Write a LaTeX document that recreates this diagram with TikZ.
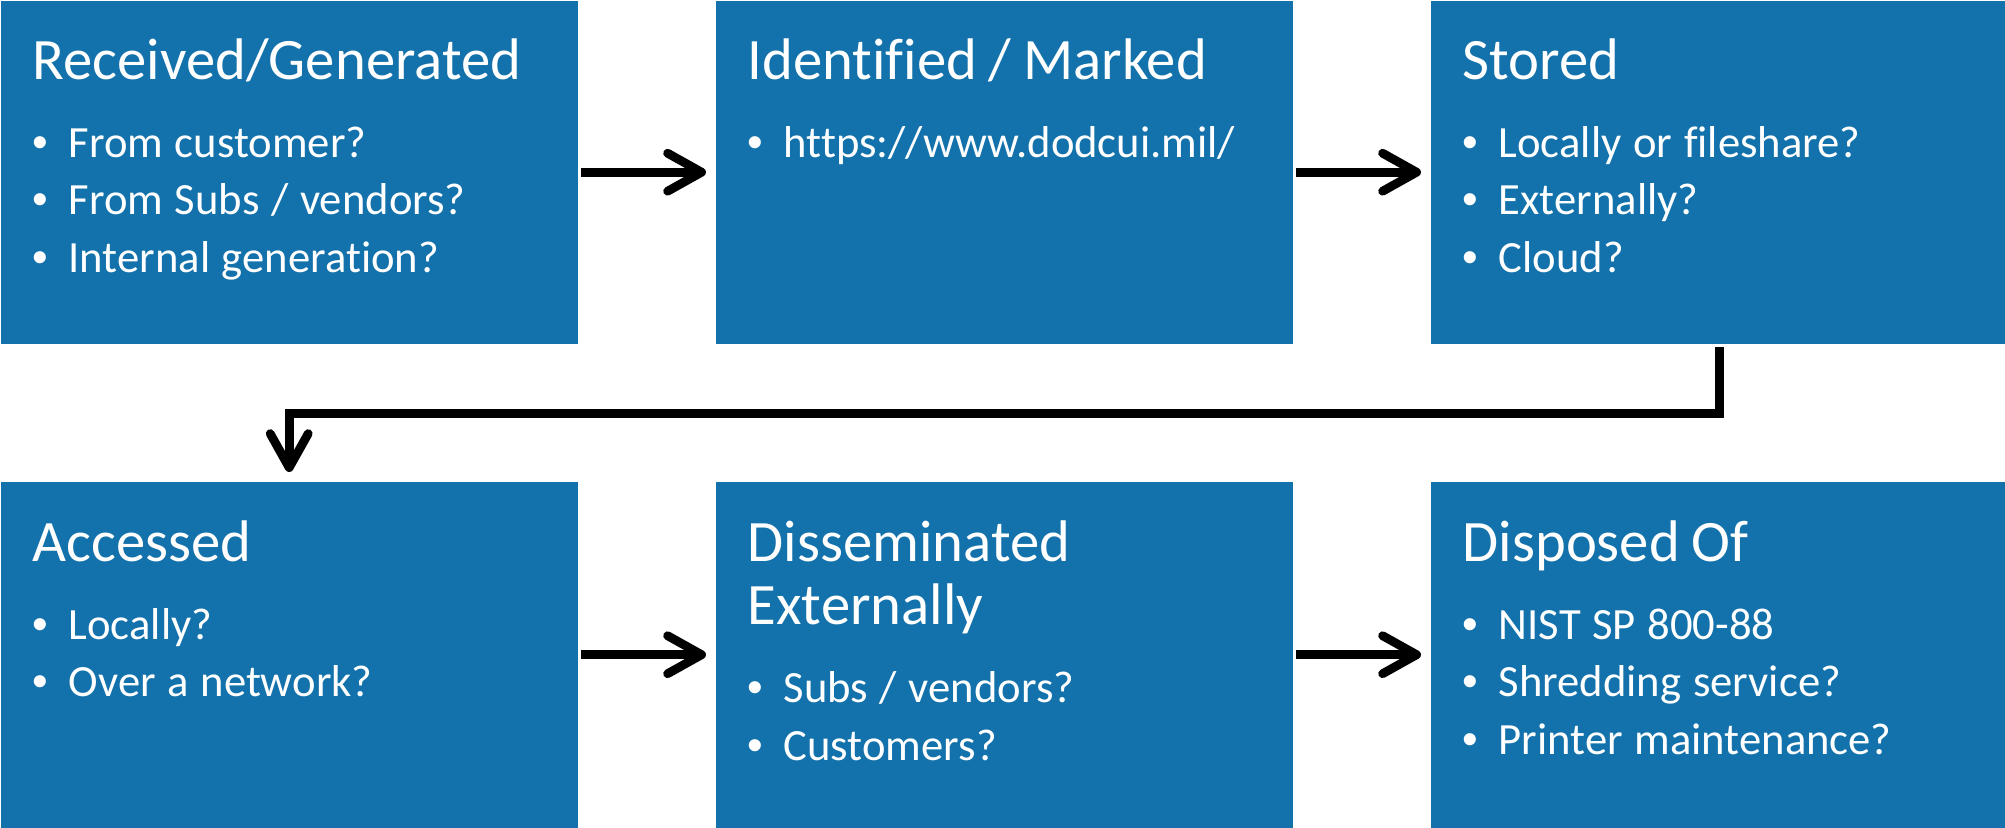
\documentclass[tikz,border=0pt]{standalone}
\usepackage{fontspec}
\setmainfont{Carlito}[Ligatures=NoCommon]
\newfontfamily\bulletfont{Liberation Sans}
\usetikzlibrary{arrows.meta}
\definecolor{stageblue}{RGB}{19,114,171}
\setlength{\parindent}{0pt}

\tikzset{
  stage/.style={fill=stageblue, minimum width=5.77cm, inner sep=0pt, anchor=north west},
  stagetext/.style={text=white, text width=5.4cm, align=left, anchor=base west, inner sep=0pt},
  flow/.style={line width=2.5pt, -{Straight Barb[length=3.4mm, width=3.8mm, round]},
               shorten <=0.03cm, shorten >=0.09cm}
}
\newcommand{\stagehead}[1]{{\fontsize{16.7}{18.2}\selectfont #1\par}\vspace{5.8pt}}
\newcommand{\stageitem}[1]{{\fontsize{12.7}{16.4}\selectfont\makebox[0.36cm][l]{\bulletfont\textbullet}#1\par}}

\begin{document}
\begin{tikzpicture}
\useasboundingbox (0,0) rectangle (20.05,8.27);

  % first row
  \node[stage, minimum height=3.43cm] (recv)  at (0,8.27)    {};
  \node[stage, minimum height=3.43cm] (ident) at (7.15,8.27) {};
  \node[stage, minimum height=3.43cm] (store) at (14.30,8.27) {};

  \node[stagetext] (recvtxt) at ([shift={(0.32,-0.79)}]recv.north west)
       {\stagehead{Received/Generated}
        \stageitem{From customer?}
        \stageitem{From Subs / vendors?}
        \stageitem{Internal generation?}};
  \node[stagetext] (identtxt) at ([shift={(0.32,-0.79)}]ident.north west)
       {\stagehead{Identified / Marked}
        \stageitem{https://www.dodcui.mil/}};
  \node[stagetext] (storetxt) at ([shift={(0.32,-0.79)}]store.north west)
       {\stagehead{Stored}
        \stageitem{Locally or fileshare?}
        \stageitem{Externally?}
        \stageitem{Cloud?}};

  % second row
  \node[stage, minimum height=3.46cm] (access)  at (0,3.46)    {};
  \node[stage, minimum height=3.46cm] (dissem)  at (7.15,3.46) {};
  \node[stage, minimum height=3.46cm] (dispose) at (14.30,3.46) {};

  \node[stagetext] (accesstxt) at ([shift={(0.32,-0.80)}]access.north west)
       {\stagehead{Accessed}
        \stageitem{Locally?}
        \stageitem{Over a network?}};
  \node[stagetext] (dissemtxt) at ([shift={(0.32,-0.80)}]dissem.north west)
       {\stagehead{Disseminated\\Externally}
        \stageitem{Subs / vendors?}
        \stageitem{Customers?}};
  \node[stagetext] (disposetxt) at ([shift={(0.32,-0.80)}]dispose.north west)
       {\stagehead{Disposed Of}
        \stageitem{NIST SP 800-88}
        \stageitem{Shredding service?}
        \stageitem{Printer maintenance?}};

  % arrows
  \draw[flow] (recv) -- (ident);
  \draw[flow] (ident) -- (store);
  \draw[flow] (store.south) -- ++(0,-0.69) -| (access.north);
  \draw[flow] (access) -- (dissem);
  \draw[flow] (dissem) -- (dispose);

\end{tikzpicture}
\end{document}
